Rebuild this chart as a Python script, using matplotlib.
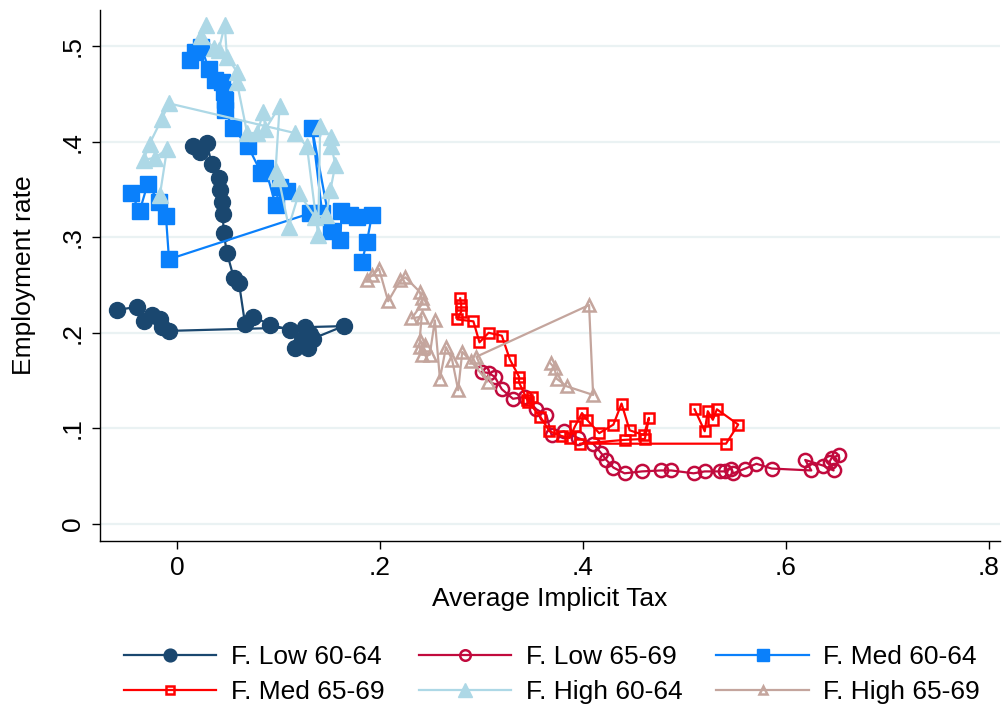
import numpy as np
import matplotlib
matplotlib.use("Agg")
import matplotlib.pyplot as plt

plt.rcParams['font.family'] = ['Liberation Sans', 'DejaVu Sans']

nan = np.nan

# F. Low 60-64
low6064_x = [-0.059, -0.040, -0.033, -0.025, -0.017, -0.015, -0.008, 0.164, 0.134, 0.129,
             0.116, 0.123, 0.131, 0.126, 0.111, 0.092, 0.075, 0.067, 0.061, 0.056,
             0.049, 0.046, 0.045, 0.044, 0.042, 0.041, 0.034, 0.029, 0.023, 0.016]
low6064_y = [0.224, 0.227, 0.212, 0.219, 0.214, 0.206, 0.202, 0.207, 0.194, 0.184,
             0.184, 0.192, 0.199, 0.206, 0.203, 0.208, 0.217, 0.209, 0.252, 0.257,
             0.284, 0.304, 0.324, 0.337, 0.349, 0.362, 0.377, 0.399, 0.389, 0.395]

# F. Low 65-69
low6569_x = [0.300, 0.307, 0.313, 0.320, 0.331, 0.343, 0.354, 0.364, 0.369, 0.381,
             0.395, 0.410, 0.418, 0.423, 0.430, 0.441, 0.458, 0.477, 0.487, 0.509,
             0.520, 0.535, 0.540, 0.546, 0.548, 0.560, 0.571, 0.586, 0.625, 0.619,
             0.637, 0.647, 0.643, 0.645, 0.652]
low6569_y = [0.159, 0.158, 0.154, 0.141, 0.131, 0.133, 0.120, 0.114, 0.093, 0.097,
             0.090, 0.084, 0.074, 0.067, 0.059, 0.053, 0.055, 0.056, 0.056, 0.053,
             0.055, 0.055, 0.055, 0.058, 0.053, 0.058, 0.063, 0.058, 0.056, 0.067,
             0.061, 0.056, 0.065, 0.069, 0.072]

# F. Med 60-64 (missing value splits the connected line)
med6064_x = [0.013, 0.018, 0.024, 0.031, 0.037, 0.044, 0.046, 0.047, 0.047, 0.055,
             0.070, 0.083, 0.087, 0.097, 0.101, 0.108, nan,
             -0.045, -0.037, -0.029, -0.018, -0.011, -0.008, 0.131, 0.143, 0.133,
             0.152, 0.161, 0.162, 0.170, 0.177, 0.192, 0.187, 0.182]
med6064_y = [0.485, 0.494, 0.499, 0.476, 0.464, 0.462, 0.452, 0.444, 0.433, 0.414,
             0.395, 0.367, 0.372, 0.334, 0.353, 0.348, nan,
             0.346, 0.327, 0.356, 0.337, 0.322, 0.277, 0.325, 0.325, 0.414,
             0.306, 0.297, 0.327, 0.323, 0.321, 0.323, 0.295, 0.274]

# F. Med 65-69
med6569_x = [0.510, 0.520, 0.523, 0.528, 0.532, 0.553, 0.541, 0.397, 0.441, 0.461,
             0.465, 0.460, 0.446, 0.438, 0.430, 0.416, 0.404, 0.399, 0.392, 0.387,
             0.379, 0.367, 0.358, 0.346, 0.350, 0.345, 0.337, 0.337, 0.328, 0.320,
             0.307, 0.298, 0.292, 0.276, 0.280, 0.280, 0.279]
med6569_y = [0.120, 0.097, 0.118, 0.109, 0.120, 0.104, 0.084, 0.084, 0.088, 0.089,
             0.111, 0.093, 0.098, 0.126, 0.104, 0.095, 0.109, 0.116, 0.102, 0.090,
             0.092, 0.097, 0.112, 0.128, 0.133, 0.130, 0.148, 0.154, 0.172, 0.197,
             0.200, 0.190, 0.212, 0.214, 0.222, 0.229, 0.236]

# F. High 60-64
high6064_x = [-0.017, -0.010, -0.022, -0.033, -0.027, -0.015, -0.008, 0.116, 0.128, 0.139,
              0.141, 0.152, 0.152, 0.156, 0.151, 0.147, 0.136, 0.120, 0.110, 0.100,
              0.097, 0.101, 0.087, 0.085, 0.079, 0.069, 0.059, 0.059, 0.049, 0.047,
              0.041, 0.036, 0.024, 0.028]
high6064_y = [0.344, 0.392, 0.383, 0.381, 0.398, 0.424, 0.440, 0.409, 0.395, 0.302,
              0.416, 0.405, 0.395, 0.376, 0.349, 0.323, 0.321, 0.346, 0.311, 0.362,
              0.369, 0.437, 0.413, 0.431, 0.409, 0.409, 0.462, 0.473, 0.489, 0.522,
              0.496, 0.498, 0.511, 0.522]

# F. High 65-69
high6569_x = [0.187, 0.192, 0.199, 0.208, 0.220, 0.225, 0.239, 0.241, 0.242, 0.231,
              0.241, 0.239, 0.244, 0.239, 0.241, 0.249, 0.254, 0.259, 0.265, 0.271,
              0.277, 0.281, 0.290, 0.306, 0.295, 0.406, 0.410, 0.384, 0.374, 0.372,
              0.368]
high6569_y = [0.255, 0.260, 0.267, 0.233, 0.255, 0.258, 0.243, 0.236, 0.231, 0.215,
              0.217, 0.192, 0.187, 0.185, 0.177, 0.177, 0.213, 0.152, 0.185, 0.172,
              0.140, 0.180, 0.170, 0.149, 0.175, 0.229, 0.135, 0.144, 0.152, 0.163,
              0.168]

labels = ["F. Low 60-64", "F. Low 65-69", "F. Med 60-64",
          "F. Med 65-69", "F. High 60-64", "F. High 65-69"]

x_ticks = [0, 0.2, 0.4, 0.6, 0.8]
x_ticklabels = ["0", ".2", ".4", ".6", ".8"]
y_ticks = [0, 0.1, 0.2, 0.3, 0.4, 0.5]
y_ticklabels = ["0", ".1", ".2", ".3", ".4", ".5"]

FS = 19

fig = plt.figure(figsize=(10.04, 7.08), dpi=100)
ax = fig.add_axes([100 / 1004, 1 - 541 / 708, 900 / 1004, 531 / 708])

series = [
    (low6064_x, low6064_y, dict(color="#1a476f", marker="o", ms=11.5, mfc="#1a476f", mec="#1a476f")),
    (low6569_x, low6569_y, dict(color="#c10a3d", marker="o", ms=9.5, mfc="none", mec="#c10a3d", mew=1.8)),
    (med6064_x, med6064_y, dict(color="#0a80fb", marker="s", ms=11, mfc="#0a80fb", mec="#0a80fb")),
    (med6569_x, med6569_y, dict(color="#ff0000", marker="s", ms=7.5, mfc="none", mec="#ff0000", mew=1.8)),
    (high6064_x, high6064_y, dict(color="#add8e6", marker="^", ms=12, mfc="#add8e6", mec="#add8e6")),
    (high6569_x, high6569_y, dict(color="#c4a59d", marker="^", ms=8, mfc="none", mec="#c4a59d", mew=1.8)),
]

handles = []
for (xs, ys, st), lab in zip(series, labels):
    h, = ax.plot(xs, ys, lw=1.6, label=lab, **st)
    handles.append(h)

ax.set_xlim(-0.076, 0.811)
ax.set_ylim(-0.0178, 0.5377)

for yt in y_ticks:
    ax.axhline(yt, color="#eaf2f3", lw=1.6, zorder=0)

ax.set_xticks(x_ticks)
ax.set_xticklabels(x_ticklabels)
ax.set_yticks(y_ticks)
ax.set_yticklabels(y_ticklabels, rotation=90, va="center")
ax.tick_params(axis="both", direction="out", length=6, width=1, labelsize=FS, pad=5)

for s in ["top", "right"]:
    ax.spines[s].set_visible(False)
for s in ["left", "bottom"]:
    ax.spines[s].set_linewidth(1.0)
    ax.spines[s].set_color("black")

ax.set_xlabel("Average Implicit Tax", fontsize=FS, labelpad=5)
ax.set_ylabel("Employment rate", fontsize=FS, labelpad=18)

# legend fills row by row: reorder for matplotlib's column-major layout
order = [0, 3, 1, 4, 2, 5]
fig.legend(handles=[handles[i] for i in order], labels=[labels[i] for i in order],
           ncol=3, loc="upper center",
           bbox_to_anchor=(552 / 1004, 1 - 621 / 708), frameon=False,
           fontsize=FS, handlelength=3.5, handletextpad=0.55, columnspacing=1.3,
           markerscale=0.8, labelspacing=0.42)

fig.savefig("out.png", dpi=100)
